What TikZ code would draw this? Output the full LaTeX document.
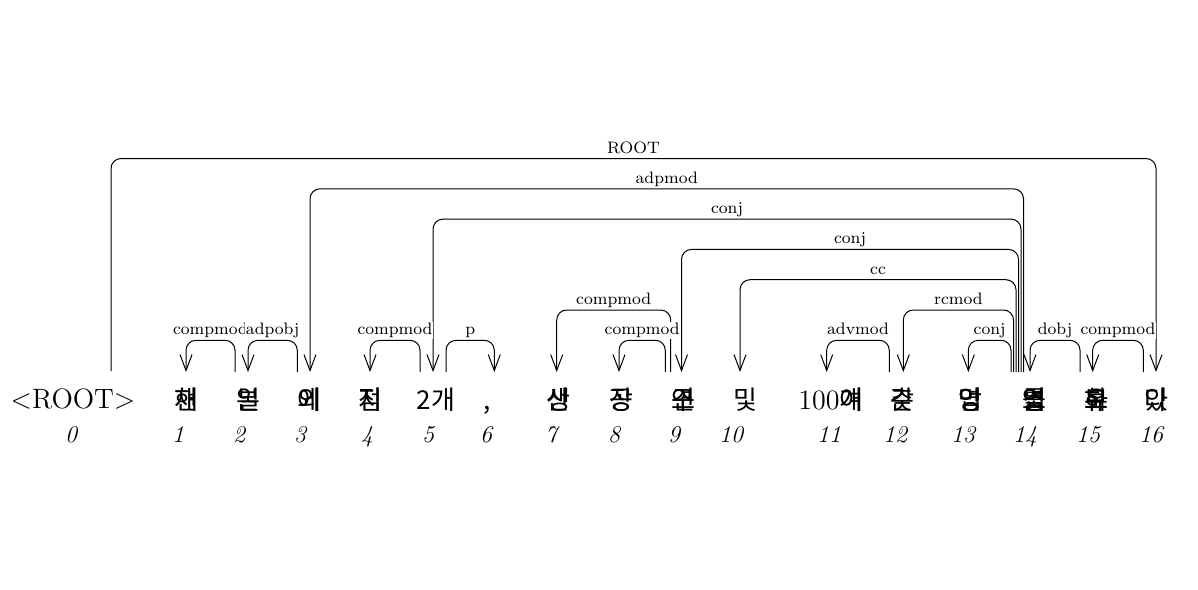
\documentclass[tikz,border=0pt]{standalone}
\usepackage{fontspec}
\newfontfamily\kofont{Noto Sans CJK KR}
\usetikzlibrary{arrows.meta,calc}
\newcommand{\olap}[1]{\rlap{#1}}
\tikzset{
  word/.style={anchor=base, inner sep=0pt, font=\kofont\fontsize{13}{15}\selectfont},
  idx/.style={anchor=base, inner sep=0pt, font=\fontsize{12}{14}\selectfont\itshape},
  deparc/.style={line width=0.5pt, rounded corners=5pt, -{Straight Barb[length=8pt,width=6pt,line width=0.5pt]}},
  deplabel/.style={anchor=base, fill=white, inner xsep=0.5pt, inner ysep=0.5pt, font=\fontsize{8.3}{10}\selectfont},
}
\begin{document}
\begin{tikzpicture}[x=0.5pt, y=-0.5pt]
  \useasboundingbox (0,0) rectangle (1198,589);
  % 단어
  \node[word, font=\fontsize{14}{16}\selectfont] (w0) at (73,408) {<ROOT>};
  \foreach \i/\x/\t in {1/186/{\olap{현}재}, 2/248/{\olap{일}본}, 3/309/{\olap{외}에},
      4/370/{\olap{지}점}, 5/436/{2개}, 6/487/{,}, 7/558/{\olap{생}산}, 8/621/{\olap{공}장},
      9/683/{\olap{연}\olap{구}소}, 10/745/{및}, 11/831/{{\fontsize{14}{16}\selectfont\rmfamily 100}\olap{여}개},
      12/902/{\olap{갖}춘}, 13/970/{\olap{영}\olap{업}망}, 14/1034/{\olap{영}\olap{업}\olap{소}를},
      15/1096/{\olap{보}\olap{유}\olap{하}고}, 16/1156/{\olap{있}다}} {
    \node[word] (w\i) at (\x,409) {\t};
  }
  % 번호
  \foreach \i/\x in {0/71, 1/178, 2/239, 3/300, 4/367, 5/428, 6/486, 7/551, 8/614,
      9/674, 10/731, 11/829, 12/895, 13/963, 14/1025, 15/1088, 16/1151} {
    \node[idx] (n\i) at (\x,442) {\i};
  }
  % 의존 관계: 지배어/이동/의존어/이동/높이/표지
  \foreach \h/\hx/\d/\dx/\lv/\lab [count=\n] in {0/38/16/0/7/ROOT, 14/-10.5/3/1/6/adpmod,
      14/-13/5/-3/5/conj, 14/-15.5/9/-1.5/4/conj, 14/-18/10/-5/3/cc,
      9/-12.3/7/-1.3/2/compmod, 14/-20.5/12/1.3/2/rcmod,
      2/-13/1/0/1/compmod, 3/-11.7/2/0/1/adpobj, 5/-16/4/0/1/compmod, 5/10/6/7.3/1/p,
      9/-17.7/8/-2/1/compmod, 12/-12.7/11/-4.3/1/advmod, 14/-23/13/-1.7/1/conj,
      15/-16/14/-4/1/dobj, 16/-12.7/15/-3.3/1/compmod} {
    \pgfmathsetmacro\ly{340.3-30.3*(\lv-1)}
    \pgfmathsetmacro\lyl{\ly-5.5}
    \coordinate (hd) at ($(w\h.base)+(\hx,-37)$);
    \coordinate (dp) at ($(w\d.base)+(\dx,-37)$);
    \coordinate (mid) at ($(hd)!0.5!(dp)$);
    \draw[deparc] (hd) -- (hd |- 0,\ly) -- (dp |- 0,\ly) -- (dp);
    \node[deplabel] (lab\n) at (mid |- 0,\lyl) {\lab};
  }
\end{tikzpicture}
\end{document}
